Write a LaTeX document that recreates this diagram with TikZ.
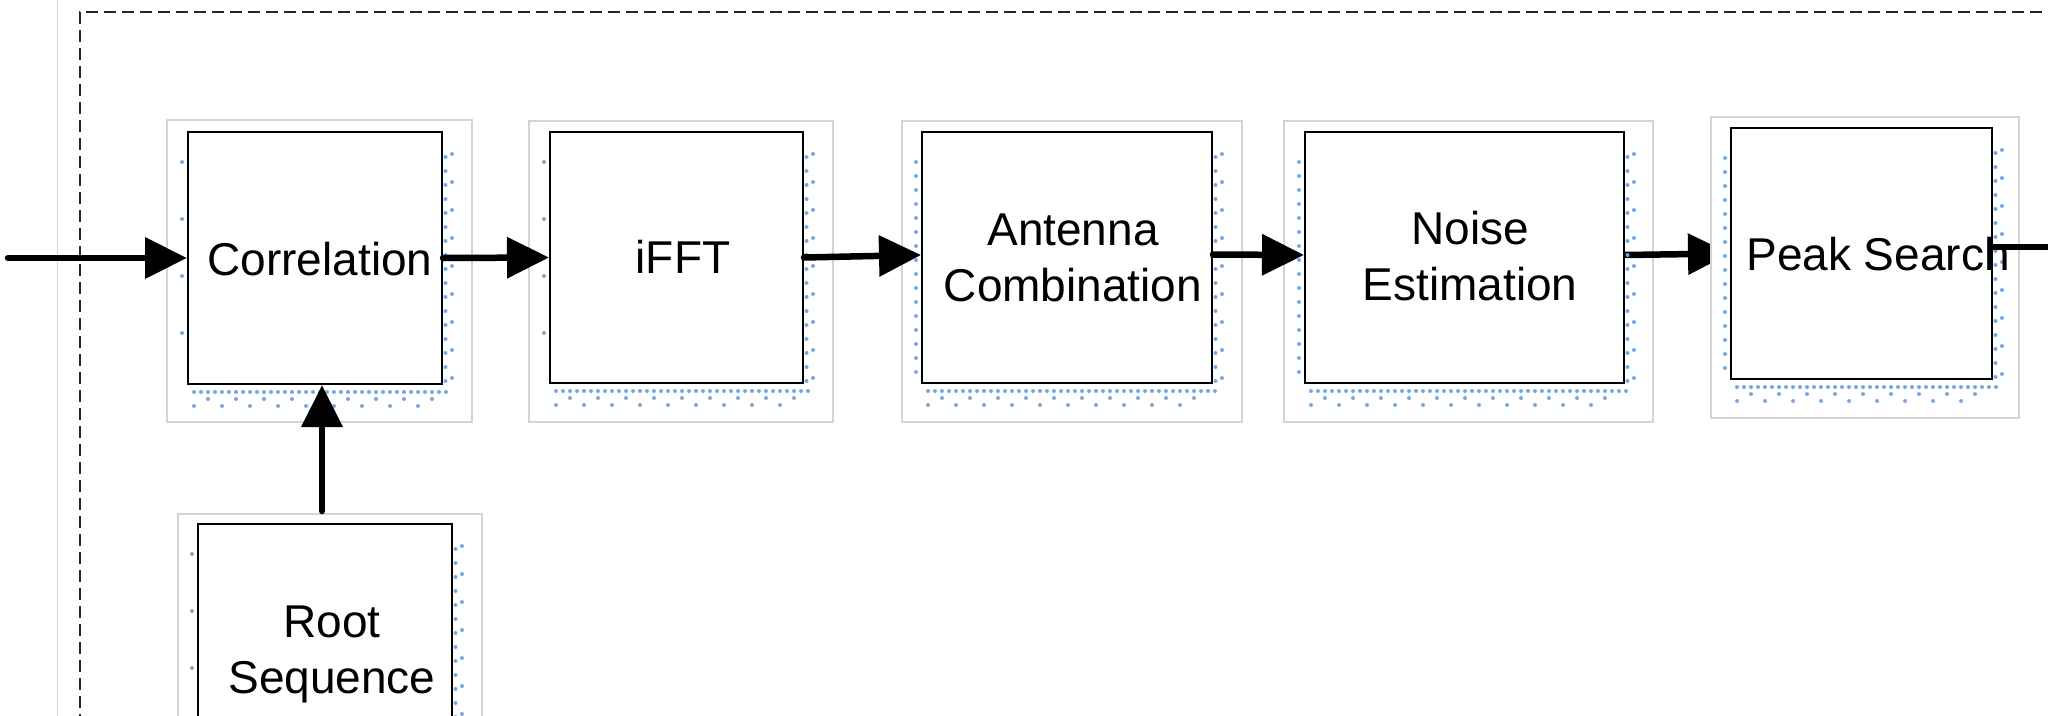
\documentclass[tikz,border=0pt]{standalone}
\usepackage{fontspec}
\setmainfont{Liberation Sans}
\usetikzlibrary{arrows.meta}
\pgfdeclarelayer{bg}\pgfdeclarelayer{arr}\pgfsetlayers{bg,arr,main}
\definecolor{dotc}{RGB}{120,168,228}
\definecolor{framec}{RGB}{212,212,212}
\tikzset{
 blk/.style={draw=black, line width=2pt, fill=white, inner sep=0pt, rectangle},
 frame/.style={draw=framec, line width=1.2pt, fill=white},
 lbl/.style={font=\fontsize{46}{56}\selectfont, inner sep=0pt, align=center},
 flow/.style={line width=6.5pt, line cap=round, -{Triangle[length=42pt,width=40pt]}},
 wire/.style={line width=6.5pt, line cap=round},
 border/.style={line width=1.5pt, dash pattern=on 12pt off 6pt, black!85},
}
% #1 xL, #2 yT, #3 xR, #4 yB, #5 left step
\newcommand{\shdots}[5]{%
 \pgfmathtruncatemacro\nA{(#4-#2-25)/14}%
 \pgfmathtruncatemacro\nB{(#4-#2-22)/28}%
 \pgfmathtruncatemacro\nC{(#3-#1)/7}%
 \pgfmathtruncatemacro\nD{(#3-#1-20)/28}%
 \pgfmathtruncatemacro\nE{(#4-#2-40)/#5}%
 \fill[dotc] \foreach \i in {0,...,\nA}{(#3+3.5,#2+25+14*\i) circle (2pt)}
   \foreach \i in {0,...,\nB}{(#3+10,#2+22+28*\i) circle (2pt)}
   \foreach \i in {0,...,\nC}{(#1+6+7*\i,#4+8) circle (2pt)}
   \foreach \i in {0,...,\nD}{(#1+20+28*\i,#4+15) circle (2pt) (#1+6+28*\i,#4+22) circle (2pt)}
   \foreach \i in {0,...,\nE}{(#1-6,#2+30+#5*\i) circle (2pt)};
}
\begin{document}
\begin{tikzpicture}[x=1pt,y=-1pt]
\useasboundingbox (0,0) rectangle (2048,715);
\begin{pgfonlayer}{bg}
 \draw[framec, line width=1pt] (57,-5) -- (57,730);
 \draw[border] (2060,12) -| (80,730);
 \draw[frame] (167,120) rectangle (472,422);
 \draw[frame] (529,121) rectangle (833,422);
 \draw[frame] (902,121) rectangle (1242,422);
 \draw[frame] (1284,121) rectangle (1653,422);
 \draw[frame] (178,514) rectangle (482,780);
\end{pgfonlayer}
\draw[frame] (1711,117) rectangle (2019,418);
\shdots{188}{132}{442}{384}{57}
\shdots{550}{132}{803}{383}{57}
\shdots{922}{132}{1212}{383}{14}
\shdots{1305}{132}{1624}{383}{14}
\shdots{1731}{128}{1992}{379}{14}
\shdots{198}{524}{452}{780}{57}
% blocks
\node[blk, minimum width=254pt, minimum height=252pt] (c) at (315,258) {};
\node[blk, minimum width=253pt, minimum height=251pt] (f) at (676.5,257.5) {};
\node[blk, minimum width=290pt, minimum height=251pt] (a) at (1067,257.5) {};
\node[blk, minimum width=319pt, minimum height=251pt] (n) at (1464.5,257.5) {};
\node[blk, minimum width=261pt, minimum height=251pt] (p) at (1861.5,253.5) {};
\node[blk, minimum width=254pt, minimum height=256pt] (r) at (325,652) {};
% labels
\node[lbl, anchor=base] (ct) at (320,275) {Correlation};
\node[lbl, anchor=base] (ft) at (683,273) {iFFT};
\node[lbl] (at) at (1073,257.5) {Antenna\\Combination};
\node[lbl] (nt) at (1470,256.5) {Noise\\Estimation};
\node[lbl, anchor=base] (pt) at (1878,270) {Peak Search};
\node[lbl] (rt) at (332,654) {Root\\Sequence};
% connectors
\coordinate (in) at (8,258);
\coordinate (out) at (2060,247);
\draw[flow] (in) -- (c.west);
\draw[flow] (c.east) -- (f.west);
\draw[flow] (f.east) -- ([yshift=2.5pt]a.west);
\draw[flow] ([yshift=3pt]a.east) -- ([yshift=2.5pt]n.west);
\begin{pgfonlayer}{arr}
 \draw[flow] ([yshift=2.5pt]n.east) -- (p.west);
\end{pgfonlayer}
\draw[wire] ([yshift=6.5pt]p.east) -- (out);
\draw[flow] ([shift={(-3,-12)}]r.north) -- ([xshift=7pt]c.south);
\end{tikzpicture}
\end{document}
